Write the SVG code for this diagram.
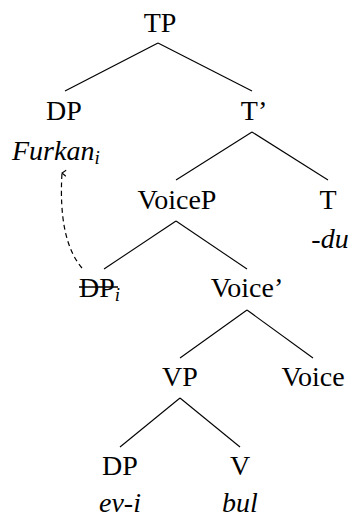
<svg xmlns="http://www.w3.org/2000/svg" width="350" height="517" viewBox="0 0 350 517">
<style>
text{font-size:28px;fill:#000;text-anchor:middle}
.it{font-style:italic}
.sub{font-size:19px;font-style:italic}
.e{stroke:#000;stroke-width:1.1;fill:none}
.mv{stroke:#000;stroke-width:1.2;fill:none;stroke-dasharray:5,3.5}
</style>
<defs>
<marker id="ah" markerWidth="10" markerHeight="10" refX="5" refY="1" orient="auto-start-reverse" markerUnits="userSpaceOnUse" viewBox="0 0 10 10">
<path d="M2,5 L5,1 L8,5" stroke="#000" stroke-width="1.1" fill="none"/>
</marker>
</defs>
<g id="edges">
<line class="e" x1="158" y1="43" x2="65" y2="91"/>
<line class="e" x1="158" y1="43" x2="252" y2="91"/>
<line class="e" x1="252" y1="132" x2="176" y2="180"/>
<line class="e" x1="252" y1="132" x2="328" y2="180"/>
<line class="e" x1="176" y1="221" x2="104" y2="269"/>
<line class="e" x1="176" y1="221" x2="247" y2="269"/>
<line class="e" x1="247" y1="310" x2="180" y2="358"/>
<line class="e" x1="247" y1="310" x2="313" y2="358"/>
<line class="e" x1="180" y1="398" x2="120" y2="447"/>
<line class="e" x1="180" y1="398" x2="240" y2="447"/>
<path class="mv" d="M82,268 Q58,240 62,173" marker-end="url(#ah)"/>
</g>
<g font-family="Liberation Serif, serif">
<g id="TP"><text x="160" y="32">TP</text></g>
<g id="DP1"><text x="64" y="120">DP</text><text x="12" y="160" class="it" style="text-anchor:start">Furkan<tspan class="sub" dy="4">i</tspan></text></g>
<g id="Tbar"><text x="254" y="120">T’</text></g>
<g id="VoiceP"><text x="177" y="209">VoiceP</text></g>
<g id="T"><text x="328" y="209">T</text><text x="330" y="248" class="it">-du</text></g>
<g id="DPi"><text x="79" y="297" style="text-anchor:start">DP<tspan class="sub" dy="4">i</tspan></text><line x1="79" y1="287" x2="118" y2="287" stroke="#000" stroke-width="1.3"/></g>
<g id="Voicebar"><text x="247" y="297">Voice’</text></g>
<g id="VP"><text x="180" y="386">VP</text></g>
<g id="Voice"><text x="313" y="386">Voice</text></g>
<g id="DP2"><text x="120" y="475">DP</text><text x="120" y="512" class="it">ev-i</text></g>
<g id="V"><text x="240" y="475">V</text><text x="240" y="512" class="it">bul</text></g>
</g>
</svg>
